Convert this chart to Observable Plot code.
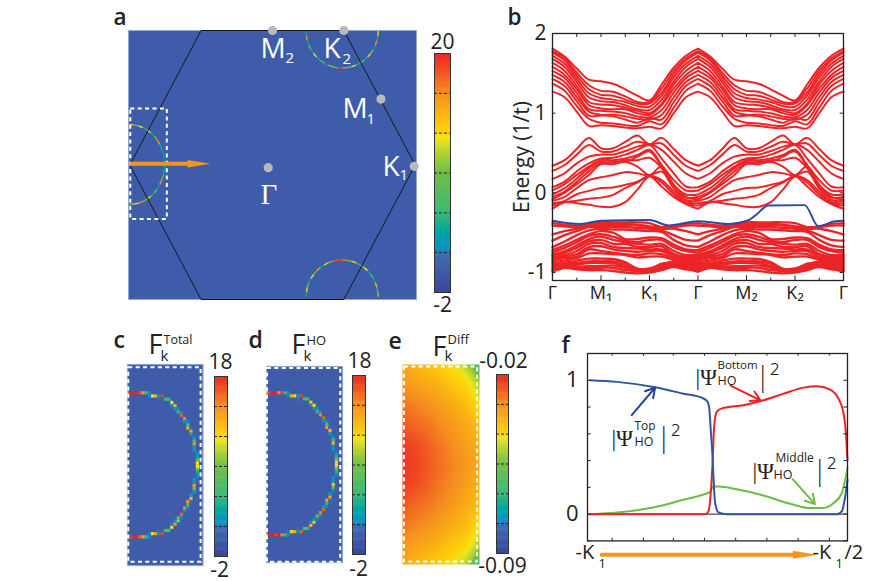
<!DOCTYPE html>
<html><head><meta charset="utf-8">
<script src="https://cdn.jsdelivr.net/npm/d3@7"></script>
<script src="https://cdn.jsdelivr.net/npm/@observablehq/plot@0.6"></script>
<style>
html,body{margin:0;padding:0;background:#fff}
#page{position:relative;width:871px;height:581px;overflow:hidden}
#page svg{position:absolute;overflow:visible;background:transparent}
</style></head><body><div id="page"></div>
<script>
const FONT = '"Open Sans","Noto Sans",sans-serif';

// ---------- colour ramp ----------
const rampAt = [0,.09,.15,.18,.25,.33,.5,.6,.64,.67,.83,1];
const rampColors = ["#39479c","#3e5ca9","#3f6ab2","#0a90c8","#00a79d","#3cb878","#72bf44","#c4d82e","#efe61a","#ffd308","#f58f20","#ed2024"];

// ---------- panel a: Brillouin zone (kx, ky in units of K, zone edge) ----------
const hexX = [-1,-.5,.5,1,.5,-.5,-1];
const hexY = [0,1,1,0,-1,-1,0];
const ringX = [.235,.238,.244,.255,.269,.288,.309,.334,.362,.391,.423,.455,.488,.521,.553,.585,.614,.642,.667,.688,.707,.721,.732,.738,.741];
const ringTopY = [.996,.960,.925,.891,.858,.829,.802,.778,.758,.742,.730,.723,.721,.723,.730,.742,.758,.778,.802,.829,.858,.891,.925,.960,.996];
const ringTopF = [13,4,16,3,8,3,12,4,8,3,10,8,19,17,8,12,4,9,3,13,8,3,16,4,13];
const ringBotY = [-.98,-.945,-.91,-.876,-.843,-.814,-.787,-.763,-.743,-.727,-.715,-.708,-.706,-.708,-.715,-.727,-.743,-.763,-.787,-.814,-.843,-.876,-.91,-.945,-.98];
const ringBotF = [16,4,13,8,3,12,8,16,4,13,8,18,19,17,9,13,5,8,12,4,8,3,14,6,10];
const ringLeftX = [-1.002,-.970,-.938,-.908,-.879,-.852,-.828,-.807,-.789,-.775,-.764,-.758,-.756,-.758,-.764,-.775,-.789,-.807,-.828,-.852,-.879,-.908,-.938,-.970,-1.002];
const ringLeftY = [.301,.298,.291,.278,.261,.240,.214,.185,.152,.118,.081,.043,.004,-.035,-.073,-.110,-.144,-.177,-.206,-.232,-.253,-.270,-.283,-.290,-.293];
const ringLeftF = [13,14,8,12,4,13,3,9,16,4,3,3,3,3,4,8,16,3,9,4,12,8,16,13,10];
const kPointsX = [-.03,.993,.76,.5,0];
const kPointsY = [-.02,-.01,.49,1,1];
const zoomBox = {x1:-.993,x2:-.737,y1:-.405,y2:.416};
const pathArrowX = [-.988,-.595], pathArrowY = [.009,.009];
const pathHeadX = [-.595,-.432,-.595], pathHeadY = [.037,.009,-.019];

// ---------- panel b: bands, Gamma-M-K-Gamma knots ----------
const knots = [0,.25,.5,.75,1,1.25,1.5,1.75,2,2.25,2.5,2.75,3];
const upperBands = [
[1.27,1.2,1.02,.84,.85,.84,.82,.81,.83,.81,1.0,1.2,1.27],
[1.37,1.28,1.09,.93,.88,.87,.85,.84,.90,.86,1.07,1.28,1.37],
[1.43,1.34,1.15,.97,.97,.96,.92,.88,.94,.92,1.14,1.34,1.43],
[1.48,1.39,1.2,1.02,.98,.98,.96,.93,.92,.98,1.2,1.39,1.48],
[1.53,1.44,1.25,1.05,1.03,1.02,1.0,.96,.95,1.04,1.26,1.44,1.53],
[1.58,1.48,1.3,1.1,1.06,1.05,1.05,1.0,.98,1.1,1.31,1.48,1.58],
[1.63,1.53,1.34,1.14,1.11,1.1,1.07,1.03,1.0,1.12,1.36,1.53,1.63],
[1.68,1.58,1.39,1.2,1.15,1.14,1.1,1.05,1.04,1.17,1.4,1.58,1.68],
[1.72,1.62,1.43,1.25,1.19,1.17,1.14,1.09,1.08,1.22,1.45,1.62,1.72],
[1.76,1.66,1.47,1.3,1.23,1.22,1.17,1.12,1.12,1.26,1.49,1.66,1.76],
[1.78,1.69,1.51,1.35,1.28,1.27,1.21,1.14,1.14,1.31,1.53,1.69,1.78],
[1.81,1.71,1.56,1.42,1.40,1.37,1.30,1.22,1.16,1.36,1.57,1.72,1.81]];
const middleBands = [
[.34,.41,.55,.69,.56,.56,.64,.72,.61,.69,.55,.41,.34],
[.275,.35,.48,.60,.52,.52,.58,.64,.61,.62,.475,.34,.275],
[.175,.246,.37,.455,.48,.48,.525,.58,.61,.54,.39,.245,.175],
[.07,.14,.27,.37,.43,.44,.48,.54,.60,.43,.245,.08,.07],
[.03,.11,.225,.33,.41,.41,.43,.475,.54,.35,.16,.03,.03],
[-.02,.06,.18,.31,.4,.4,.39,.455,.52,.33,.1,-.02,-.02],
[-.05,.017,.14,.27,.38,.38,.41,.41,.44,.31,.06,-.06,-.05],
[-.08,0,.11,.225,.36,.36,.39,.33,.225,.33,.1,-.05,-.08],
[-.10,-.05,.06,.16,.195,.225,.26,.245,.217,.267,.06,-.09,-.10],
[-.13,-.1,-.017,.025,.06,.067,.1,.14,.21,.16,.017,-.117,-.13],
[-.16,-.117,-.1,-.075,-.06,-.025,.06,.13,.21,.13,-.017,-.13,-.16],
[-.20,-.117,-.13,-.15,-.175,-.175,-.117,.04,.204,.08,-.05,-.14,-.20]];
const lowerBands = [
[-.38,-.40,-.41,-.39,-.37,-.37,-.37,-.37,-.38,-.43,-.42,-.39,-.38],
[-.41,-.42,-.43,-.40,-.39,-.39,-.39,-.40,-.42,-.44,-.43,-.41,-.41],
[-.52,-.48,-.45,-.41,-.41,-.41,-.41,-.41,-.43,-.45,-.45,-.48,-.52],
[-.60,-.53,-.48,-.43,-.43,-.43,-.43,-.44,-.45,-.47,-.53,-.59,-.60],
[-.68,-.61,-.53,-.47,-.45,-.46,-.46,-.47,-.48,-.49,-.59,-.66,-.68],
[-.72,-.66,-.59,-.52,-.48,-.50,-.58,-.58,-.56,-.57,-.65,-.71,-.72],
[-.75,-.69,-.62,-.54,-.52,-.55,-.60,-.62,-.59,-.59,-.68,-.73,-.75],
[-.775,-.73,-.66,-.58,-.55,-.59,-.62,-.64,-.65,-.64,-.73,-.78,-.775],
[-.79,-.75,-.69,-.61,-.59,-.64,-.64,-.68,-.68,-.67,-.77,-.80,-.79],
[-.81,-.78,-.73,-.64,-.63,-.68,-.69,-.70,-.71,-.71,-.78,-.82,-.81],
[-.83,-.80,-.77,-.68,-.67,-.71,-.73,-.74,-.73,-.73,-.81,-.84,-.83],
[-.85,-.82,-.80,-.71,-.73,-.75,-.77,-.78,-.76,-.77,-.83,-.86,-.85],
[-.87,-.85,-.82,-.76,-.76,-.77,-.78,-.81,-.80,-.80,-.84,-.87,-.87],
[-.89,-.88,-.85,-.825,-.825,-.83,-.87,-.95,-.95,-.90,-.86,-.89,-.89],
[-.915,-.89,-.88,-.86,-.86,-.86,-.89,-.96,-.96,-.89,-.88,-.91,-.915],
[-.935,-.91,-.90,-.88,-.88,-.88,-.92,-.97,-.97,-.91,-.90,-.925,-.935],
[-.96,-.925,-.925,-.92,-.92,-.91,-.94,-.975,-.98,-.93,-.92,-.94,-.96],
[-.975,-.93,-.94,-.94,-.94,-.94,-.97,-.98,-.99,-.95,-.93,-.96,-.975],
[-.99,-.94,-.96,-.97,-.97,-.98,-1.0,-1.01,-1.0,-.97,-.925,-.95,-.99]];
const hoBandX = [0,.58,1,2,2.4,3,3.6,4.05,4.2,4.45,5.2,5.48,5.8,6];
const hoBandE = [-.35,-.39,-.35,-.34,-.41,-.355,-.39,-.34,-.275,-.158,-.154,-.42,-.36,-.35];
const pathLabels = ["Γ","M₁","K₁","Γ","M₂","K₂","Γ"];
const energyTicks = [-1,0,1,2];
const pathTicks = [0,1,2,3,4,5,6];
const pathMinor = [.5,1.5,2.5,3.5,4.5,5.5];

// ---------- panels c, d: Berry curvature cells ----------
const arcCols = [0,1,2,3,4,5,6,7,7,8,9,10,10,11,12,13,14,14,15,15,16,16,17,17,18,18,19,19,19,20,20,20,21,21,21,21,21,22,22,22,22];
const arcRowsUp = [9,9,9,9,9,9,9,9,10,10,10,10,11,10,11,11,12,13,13,14,14,15,15,16,17,18,18,19,20,20,21,22,23,24,25,26,27,28,29,30,31];
const arcRowsLow = [54,54,54,54,54,54,54,54,53,53,53,53,52,53,52,52,51,50,50,49,49,48,48,47,46,45,45,44,43,43,42,41,40,39,38,37,36,35,34,33,32];
const totalUp = [11,18,18,18,17,14,6,2,1.5,11,13,2,1,17,5,5,11,1.5,13,2,1.5,6,1.5,16,15,2,1.5,6,13,1,14,2.5,2,6,14,2.5,2,1.5,3,7,11];
const totalLow = [11,17,18,18,16,14,6,2,1.5,11,14,2,1,17,5,6,11,1.5,14,2,9,5,1.5,16,2,15,1.5,6,14,1,13,2.5,3,7,14,2.5,2,1.5,3,7,11];
const hoUp = [11,17,18,18,15,17,5,2,1.5,13,11,2,1,17,6,5,12,1.5,11,2,1.5,5,1.5,15,16,2,1.5,7,14,1,13,2.5,2,6,13,2.5,2,1.5,4,8,11];
const hoLow = [11,18,18,17,18,15,5,2,1.5,11,13,2,1,16,6,5,13,1.5,12,2,1.5,7,1.5,15,16,2,1.5,5,14,1,14,2.5,2,7,12,2.5,2,1.5,4,8,11];

// ---------- panel e: difference field, rows top to bottom, columns left to right ----------
const diffColumns = [0,.2,.4,.6,.8,.92,1];
const diffRows = [0,.05,.1,.2,.3,.4,.5,.6,.7,.8,.9,.95,1];
const diffField = [
[-.036,-.039,-.041,-.044,-.049,-.058,-.068],
[-.034,-.037,-.039,-.042,-.045,-.050,-.058],
[-.033,-.035,-.037,-.040,-.043,-.046,-.051],
[-.029,-.031,-.033,-.036,-.039,-.042,-.045],
[-.026,-.028,-.030,-.033,-.036,-.038,-.041],
[-.023,-.025,-.028,-.031,-.034,-.036,-.038],
[-.022,-.024,-.027,-.030,-.033,-.035,-.036],
[-.023,-.025,-.028,-.031,-.034,-.036,-.038],
[-.026,-.028,-.030,-.033,-.036,-.038,-.041],
[-.029,-.031,-.033,-.036,-.039,-.042,-.045],
[-.033,-.035,-.037,-.040,-.043,-.046,-.051],
[-.034,-.037,-.039,-.042,-.045,-.050,-.058],
[-.036,-.039,-.041,-.044,-.049,-.058,-.068]];

// ---------- panel f: layer weights ----------
const topX = [.01,.113,.254,.369,.446,.462,.469,.474,.481,.485,.491,.504,.536,.959,.978,.991,1];
const topW = [1.0,.988,.95,.90,.864,.84,.777,.628,.43,.256,.082,.012,0,0,.02,.13,.256];
const bottomX = [.01,.453,.465,.474,.481,.487,.497,.517,.6,.677,.754,.831,.882,.933,.965,.985,.995,1];
const bottomW = [0,0,.02,.156,.38,.653,.764,.79,.814,.851,.90,.945,.955,.93,.864,.752,.578,.404];
const middleX = [.01,.113,.241,.369,.433,.469,.485,.504,.574,.677,.78,.856,.901,.946,.978,1];
const middleW = [0,.012,.045,.107,.139,.164,.206,.206,.186,.139,.077,.045,.045,.082,.156,.342];
const weightTicksX = [.095,.215,.33,.45,.57,.69,.81,.93];
const weightTicksY = [-.2,0,.2,.4,.6,.8,1,1.2];
const weightLabels = [0,1];

// ---------- helpers ----------
const page = document.getElementById("page");
function place(opts, left, top){
  const el = Plot.plot({marginTop:0,marginRight:0,marginBottom:0,marginLeft:0,
    style:{background:"transparent",overflow:"visible",fontFamily:FONT,color:"#222"},...opts});
  el.style.left = left+"px"; el.style.top = top+"px";
  page.appendChild(el);
}
const colorFor = (lo,hi) => ({type:"linear",domain:rampAt.map(t=>lo+t*(hi-lo)),range:rampColors,clamp:true});
const zip = (xs,ys,fs) => xs.map((x,i)=>({x,y:ys[i],f:fs?fs[i]:0}));
const segments = pts => pts.slice(1).map((p,i)=>({x1:pts[i].x,y1:pts[i].y,x2:p.x,y2:p.y,f:p.f}));
const ringMark = (xs,ys,fs)=>Plot.link(segments(zip(xs,ys,fs)),{x1:"x1",y1:"y1",x2:"x2",y2:"y2",stroke:"f",strokeWidth:1.4,clip:true});

function colorbar(lo,hi,left,top,w,h,ticks){
  const step=(hi-lo)/200;
  place({width:w,height:h,x:{domain:[0,1],axis:null},y:{domain:[lo,hi],axis:null},color:colorFor(lo,hi),
    marks:[
      Plot.rect(d3.range(lo,hi,step),{x1:0,x2:1,y1:d=>d,y2:d=>d+step*1.6,fill:d=>d,clip:true}),
      Plot.ruleY(ticks,{stroke:"#222",strokeWidth:1,strokeDasharray:"3,2"}),
      Plot.frame({stroke:"#333",strokeWidth:1})
    ]},left,top);
}

// ---------- panel a ----------
place({width:288,height:269,
  x:{domain:[-1.009,1.009],axis:null},y:{domain:[-1,1],axis:null},color:colorFor(-2,20),
  marks:[
    Plot.frame({fill:"#3e5ca9",stroke:"#8ea3cf",strokeWidth:.6}),
    ringMark(ringX,ringTopY,ringTopF),
    ringMark(ringX,ringBotY,ringBotF),
    ringMark(ringLeftX,ringLeftY,ringLeftF),
    Plot.line(zip(hexX,hexY),{x:"x",y:"y",stroke:"#14161f",strokeWidth:1}),
    Plot.rect([zoomBox],{x1:"x1",x2:"x2",y1:"y1",y2:"y2",stroke:"#fff",strokeWidth:2,strokeDasharray:"4,3.4"}),
    Plot.line(zip(pathArrowX,pathArrowY),{x:"x",y:"y",stroke:"#f7941d",strokeWidth:4}),
    Plot.line(zip(pathHeadX,pathHeadY),{x:"x",y:"y",stroke:"none",fill:"#f7941d"}),
    Plot.dot(zip(kPointsX,kPointsY),{x:"x",y:"y",r:4.6,fill:"#b9b9b9"})
  ]},128,30);
colorbar(-2,20,434,53,16,239,[1.67,5.33,9,12.67,16.33]);

// ---------- panel b ----------
const bandRows = (bands,tag)=>bands.flatMap((b,i)=>[0,3].flatMap(off=>knots.map((k,j)=>({x:k+off,e:b[j],id:tag+i}))));
const gapBands = [...bandRows(upperBands,"u"),...bandRows(middleBands,"m")];
place({width:360,height:300,marginLeft:52,marginRight:17,marginTop:23,marginBottom:30,
  x:{domain:[0,6]},y:{domain:[-1.1,2]},
  marks:[
    Plot.line(gapBands,{x:"x",y:"e",z:"id",stroke:"#ed2427",strokeWidth:2,curve:"catmull-rom"}),
    Plot.line(bandRows(lowerBands,"l"),{x:"x",y:"e",z:"id",stroke:"#ed2427",strokeWidth:2.4,curve:"catmull-rom"}),
    Plot.line(zip(hoBandX,hoBandE),{x:"x",y:"y",stroke:"#2b4ba0",strokeWidth:2,curve:"monotone-x"}),
    Plot.frame({stroke:"#222",strokeWidth:1.3}),
    Plot.ruleY(energyTicks,{x1:0,x2:.07,stroke:"#222"}),
    Plot.ruleY(energyTicks,{x1:5.93,x2:6,stroke:"#222"}),
    Plot.ruleX([...pathTicks,...pathMinor],{y1:2,y2:1.95,stroke:"#222"}),
    Plot.ruleX(pathTicks,{y1:-1.1,y2:-1.04,stroke:"#222"}),
    Plot.ruleX(pathMinor,{y1:-1.1,y2:-1.07,stroke:"#222"}),
    Plot.axisY({ticks:energyTicks,tickSize:0,tickPadding:6,fontSize:21,tickFormat:d=>String(d),label:"Energy (1/t)",labelAnchor:"center",labelArrow:"none",labelOffset:38}),
    Plot.axisX({ticks:pathTicks,tickSize:0,tickPadding:6,fontSize:18,tickFormat:i=>pathLabels[i],label:null})
  ]},500,10);

// ---------- panels c, d ----------
function arcPanel(up,low,left,top,w,h,rowDomain,box){
  const cells=[...arcCols.map((c,i)=>({c,r:arcRowsUp[i],f:up[i]})),...arcCols.map((c,i)=>({c,r:arcRowsLow[i],f:low[i]}))];
  place({width:w,height:h,x:{domain:[0,w/3.2],axis:null},y:{domain:rowDomain,axis:null},color:colorFor(-2,18),
    marks:[
      Plot.frame({fill:"#3e5ca9",stroke:"#8ea3cf",strokeWidth:1.2}),
      Plot.rect(cells,{x1:d=>d.c-.5,x2:d=>d.c+.5,y1:d=>d.r-.5,y2:d=>d.r+.5,fill:"f",clip:true}),
      Plot.rect([box],{x1:"x1",x2:"x2",y1:"y1",y2:"y2",stroke:"#fff",strokeWidth:2,strokeDasharray:"4,3.4"})
    ]},left,top);
}
arcPanel(totalUp,totalLow,127,364,75.5,201,[62.8,0],{x1:.4,x2:23,y1:1,y2:61.8});
colorbar(-2,18,214,376,13,180,[1.33,4.67,8,11.33,14.67]);
arcPanel(hoUp,hoLow,265.7,366,76,196,[62.6,.55],{x1:.3,x2:23.2,y1:1.2,y2:62.5});
colorbar(-2,18,352,375,13,179,[1.33,4.67,8,11.33,14.67]);

// ---------- panel e ----------
const diffPoints = diffRows.flatMap((y,r)=>diffColumns.map((x,c)=>({x,y,f:diffField[r][c]})));
place({width:77,height:200,x:{domain:[0,1],axis:null},y:{domain:[1,0],axis:null},color:colorFor(-.09,-.02),
  marks:[
    Plot.raster(diffPoints,{x:"x",y:"y",fill:"f",interpolate:"barycentric",pixelSize:1}),
    Plot.rect([{x1:.025,x2:.975,y1:.012,y2:.988}],{x1:"x1",x2:"x2",y1:"y1",y2:"y2",stroke:"#fff",strokeWidth:2,strokeDasharray:"4,3.4"})
  ]},402,364);
colorbar(-.09,-.02,496,374,12,179,[-.0783,-.0667,-.055,-.0433,-.0317]);

// ---------- panel f ----------
place({width:300,height:220,marginLeft:37,marginRight:3,marginTop:13,marginBottom:19.6,
  x:{domain:[0,1],axis:null},y:{domain:[-.2,1.2]},
  marks:[
    Plot.ruleY([0],{stroke:"#222",strokeWidth:1}),
    Plot.line(zip(middleX,middleW),{x:"x",y:"y",stroke:"#6abd45",strokeWidth:2,curve:"monotone-x"}),
    Plot.line(zip(bottomX,bottomW),{x:"x",y:"y",stroke:"#ed2024",strokeWidth:2,curve:"monotone-x"}),
    Plot.line(zip(topX,topW),{x:"x",y:"y",stroke:"#2f55a4",strokeWidth:2,curve:"monotone-x"}),
    Plot.arrow([{x1:.17,y1:.74,x2:.26,y2:.945}],{x1:"x1",y1:"y1",x2:"x2",y2:"y2",stroke:"#27409a",strokeWidth:2,headLength:8}),
    Plot.arrow([{x1:.55,y1:.96,x2:.665,y2:.85}],{x1:"x1",y1:"y1",x2:"x2",y2:"y2",stroke:"#ed2024",strokeWidth:2,headLength:8}),
    Plot.arrow([{x1:.79,y1:.26,x2:.875,y2:.075}],{x1:"x1",y1:"y1",x2:"x2",y2:"y2",stroke:"#6abd45",strokeWidth:2,headLength:8}),
    Plot.line([{x:.055,y:-.303},{x:.79,y:-.303}],{x:"x",y:"y",stroke:"#f7941d",strokeWidth:4}),
    Plot.line([{x:.79,y:-.273},{x:.885,y:-.303},{x:.79,y:-.333}],{x:"x",y:"y",stroke:"none",fill:"#f7941d"}),
    Plot.frame({stroke:"#222",strokeWidth:1.3}),
    Plot.ruleY(weightTicksY,{x1:0,x2:.014,stroke:"#222"}),
    Plot.ruleY(weightTicksY,{x1:.986,x2:1,stroke:"#222"}),
    Plot.ruleX(weightTicksX,{y1:-.2,y2:-.18,stroke:"#222"}),
    Plot.ruleX(weightTicksX,{y1:1.18,y2:1.2,stroke:"#222"}),
    Plot.axisY({ticks:weightLabels,tickSize:0,tickPadding:9,fontSize:22,tickFormat:d=>String(d),label:null})
  ]},550,340);

// ---------- text annotations, drawn last on a page-sized layer ----------
const W="#fff", K="#222";
const notesLetters = [["a",113,24.5,22.5],["b",507,24.5,22.5],["c",113,347,23],["d",248,347,23],["e",388,348,23],["f",561,352,23]];
const notesStart = [
 ["M",260,57,28,W],["2",285,62,15,W],["K",323,57,28,W],["2",342,63,15,W],
 ["M",342,117,28,W],["1",366,123,15,W],["K",382,175,28,W],["1",399,179,15,W],
 ["F",148,353,27,K],["k",160,360,15,K],["Total",163,343,12.5,K],
 ["F",291,353,27,K],["k",303,360,15,K],["HO",306,344,13,K],
 ["F",432,355,27,K],["k",444,360,15,K],["Diff",447,343,13,K],
 ["Bottom",717,368,11.5,K],["HO",717,384,12.5,K],
 ["Top",634,429,12,K],["HO",634,445,12.5,K],
 ["Middle",775,461,12,K],["HO",773,478,12.5,K],
 ["-K",575,558,20,K],["1",598,567,13,K],["-K",812,558,20,K],["1",835,567,13,K],["/2",844,558,20,K]
];
const notesBars = [["|²",755,385,27],["|²",656,446,27],["|²",812,479,27]];
const notesMiddle = [
 ["20",442,48,21],["-2",442,311,21],["18",220,368,21],["-2",219,576,21],["18",359,367,21],["-2",358,575,21],
 ["-0.02",503,367,21],["-0.09",502,572,21]
];
const notesSerif = [
 ["Γ",260,203,29,W],["|Ψ",695,384,23,K],["|Ψ",611,445,23,K],["|Ψ",752,478,23,K]
];
const textOpts = {x:d=>d[1],y:d=>d[2],text:d=>d[0],fontSize:d=>d[3],lineAnchor:"bottom"};
place({width:871,height:581,x:{type:"identity",axis:null},y:{type:"identity",axis:null},color:{type:"identity"},
  marks:[
    Plot.text(notesLetters,{...textOpts,fill:K,textAnchor:"start",fontWeight:600}),
    Plot.text(notesStart,{...textOpts,fill:d=>d[4],textAnchor:"start"}),
    Plot.text(notesBars,{...textOpts,fill:K,textAnchor:"start",fontWeight:300}),
    Plot.text(notesMiddle,{...textOpts,fill:K,textAnchor:"middle"}),
    Plot.text(notesSerif,{...textOpts,fill:d=>d[4],textAnchor:"start",fontFamily:'"Liberation Serif",serif'})
  ]},0,0);
</script></body></html>
